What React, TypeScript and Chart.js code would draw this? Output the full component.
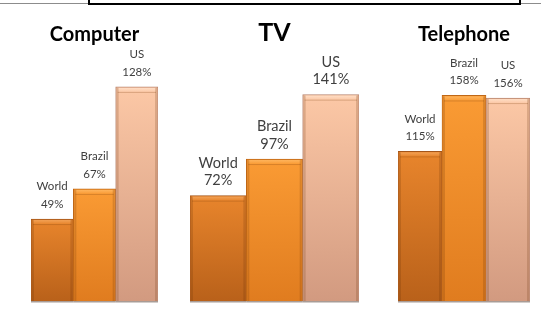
import React, { useEffect, useRef } from "react";
import { Chart, registerables } from "chart.js";

Chart.register(...registerables);

// ---- data ----
const seriesLabels = ["World", "Brazil", "US"];
const computerValues = [49, 67, 128];
const tvValues = [72, 97, 141];
const telephoneValues = [115, 158, 156];
const panelTitles = ["Computer", "TV", "Telephone"];

// ---- styles ----
const barTop = ["#E8852C", "#FA9B34", "#FCC8A6"];
const barBottom = ["#B9611A", "#E07C1F", "#D29A80"];
const barEdge = ["#A3551A", "#BF6716", "#B6846E"];
const barBevel = ["#F4A860", "#FFBA66", "#FFE2CC"];

type Panel = {
  title: string;
  values: number[];
  left: number;
  width: number;
  padLeft: number;
  padRight: number;
  yMax: number;
  titleSize: number;
  labelSize: number;
};

const panels: Panel[] = [
  { title: panelTitles[0], values: computerValues, left: 0, width: 180, padLeft: 31, padRight: 22, yMax: 168, titleSize: 20, labelSize: 11.5 },
  { title: panelTitles[1], values: tvValues, left: 180, width: 190, padLeft: 10, padRight: 11, yMax: 192, titleSize: 25, labelSize: 14.5 },
  { title: panelTitles[2], values: telephoneValues, left: 370, width: 171, padLeft: 28, padRight: 11, yMax: 216, titleSize: 20, labelSize: 11.5 },
];

const decorPlugin = {
  id: "decor",
  afterDatasetsDraw(chart: any, _args: any, opts: any) {
    const c = chart.ctx;
    const meta = chart.getDatasetMeta(0);
    const values = chart.data.datasets[0].data as number[];
    meta.data.forEach((el: any, i: number) => {
      const x = el.x;
      const y = el.y;
      const w = el.width;
      const base = el.base;
      const l = x - w / 2;
      const r = x + w / 2;
      c.save();
      // top bevel
      const g = c.createLinearGradient(0, y, 0, y + 5);
      g.addColorStop(0, barBevel[i]);
      g.addColorStop(1, barTop[i]);
      c.fillStyle = g;
      c.fillRect(l + 2, y + 1, w - 4, 4);
      c.fillStyle = "rgba(120,60,10,0.25)";
      c.fillRect(l + 2, y + 5, w - 4, 1);
      // side shading
      c.fillStyle = "rgba(90,40,0,0.18)";
      c.fillRect(l + 1, y + 1, 2, base - y - 1);
      c.fillRect(r - 3, y + 1, 2, base - y - 1);
      // bottom shadow
      c.fillStyle = "rgba(110,90,80,0.6)";
      c.fillRect(l, base, w, 1.5);
      // labels
      c.fillStyle = "#3F3F3F";
      c.font = `${opts.labelSize}px Lato, "Open Sans", sans-serif`;
      c.textAlign = "center";
      c.textBaseline = "middle";
      c.fillText(`${values[i]}%`, x, y - 15);
      c.fillText(seriesLabels[i], x, y - 32.5);
      c.restore();
    });
    // title
    const area = chart.chartArea;
    c.save();
    c.fillStyle = "#000000";
    c.font = `bold ${opts.titleSize}px Lato, "Open Sans", sans-serif`;
    c.textAlign = "center";
    c.textBaseline = "alphabetic";
    c.fillText(opts.title, (area.left + area.right) / 2, 41);
    c.restore();
  },
};

function PanelChart({ panel }: { panel: Panel }) {
  const ref = useRef<HTMLCanvasElement>(null);
  useEffect(() => {
    if (!ref.current) return;
    const chart = new Chart(ref.current, {
      type: "bar",
      data: {
        labels: seriesLabels,
        datasets: [
          {
            data: panel.values,
            backgroundColor: (ctx: any) => {
              const ch = ctx.chart;
              const i = ctx.dataIndex;
              if (!ch.chartArea || !ch.scales || !ch.scales.y) return barTop[i];
              const yTop = ch.scales.y.getPixelForValue(panel.values[i]);
              const yBot = ch.scales.y.getPixelForValue(0);
              const g = ch.ctx.createLinearGradient(0, yTop, 0, yBot);
              g.addColorStop(0, barTop[i]);
              g.addColorStop(1, barBottom[i]);
              return g;
            },
            borderColor: barEdge,
            borderWidth: { left: 1, right: 1, top: 1, bottom: 0 },
            borderSkipped: false,
            barPercentage: 1,
            categoryPercentage: 1,
          } as any,
        ],
      },
      options: {
        animation: false,
        responsive: false,
        maintainAspectRatio: false,
        layout: { padding: { left: panel.padLeft, right: panel.padRight, top: 20, bottom: 15 } },
        scales: {
          x: { display: false, grid: { display: false } },
          y: { display: false, min: 0, max: panel.yMax, grid: { display: false } },
        },
        plugins: {
          legend: { display: false },
          tooltip: { enabled: false },
          title: { display: false },
          decor: { title: panel.title, titleSize: panel.titleSize, labelSize: panel.labelSize },
        } as any,
      },
      plugins: [decorPlugin],
    });
    return () => chart.destroy();
  }, [panel]);
  return (
    <canvas
      ref={ref}
      width={panel.width}
      height={316}
      style={{ position: "absolute", left: panel.left, top: 0, width: panel.width, height: 316 }}
    />
  );
}

export default function App() {
  return (
    <div style={{ position: "absolute", left: 0, top: 0, width: 541, height: 316, background: "#ffffff", overflow: "hidden" }}>
      <div style={{ position: "absolute", left: 0, top: 3, width: 541, height: 1, background: "#8C8C8C" }} />
      <div
        style={{
          position: "absolute",
          left: 88,
          top: -12,
          width: 433,
          height: 17,
          boxSizing: "border-box",
          border: "2px solid #000000",
          background: "#ffffff",
        }}
      />
      {panels.map((p) => (
        <PanelChart key={p.title} panel={p} />
      ))}
    </div>
  );
}
